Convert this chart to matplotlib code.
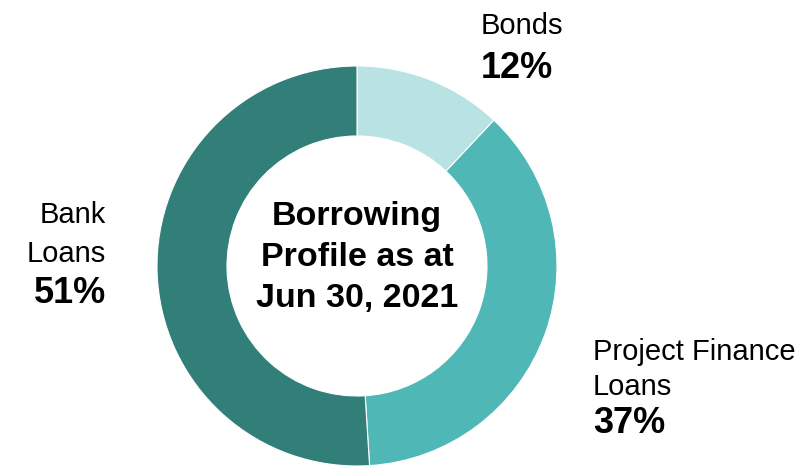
import matplotlib
matplotlib.use("Agg")
import matplotlib.pyplot as plt

plt.rcParams['font.family'] = ['Liberation Sans', 'DejaVu Sans']

# borrowing mix, clockwise from 12 o'clock
categories = ['Bonds', 'Project Finance Loans', 'Bank Loans']
shares = [12, 37, 51]
colors = ['#b9e3e3', '#4fb8b6', '#327f7a']

W, H = 804, 466
fig = plt.figure(figsize=(W / 100, H / 100), dpi=100)

# donut: centre at (357, 266) px, outer radius 200 px
cx, cy, r = 357, 266, 200
ax = fig.add_axes([(cx - r) / W, (H - cy - r) / H, 2 * r / W, 2 * r / H])
ax.pie(shares, colors=colors, startangle=90, counterclock=False,
       radius=1, wedgeprops=dict(width=0.35, edgecolor='white', linewidth=0.8))
ax.set_xlim(-1, 1)
ax.set_ylim(-1, 1)
ax.set_aspect('equal')
ax.axis('off')

LABEL_SIZE = 21
PCT_SIZE = 26
TITLE_SIZE = 24.5


def px_text(x, y, s, **kw):
    fig.text(x / W, 1 - y / H, s, va='baseline', **kw)


# centre title
for line, y in zip(['Borrowing', 'Profile as at', 'Jun 30, 2021'], [225, 266, 307]):
    px_text(cx, y, line, ha='center', fontsize=TITLE_SIZE, fontweight='bold')

# Bonds
px_text(481, 34, 'Bonds', ha='left', fontsize=LABEL_SIZE)
px_text(481, 78, f'{shares[0]}%', ha='left', fontsize=PCT_SIZE, fontweight='bold')

# Project Finance Loans
px_text(593, 360, 'Project Finance', ha='left', fontsize=LABEL_SIZE)
px_text(593, 395, 'Loans', ha='left', fontsize=LABEL_SIZE)
px_text(593, 433, f'{shares[1]}%', ha='left', fontsize=PCT_SIZE, fontweight='bold')

# Bank Loans
px_text(106, 223, 'Bank', ha='right', fontsize=LABEL_SIZE)
px_text(106, 262, 'Loans', ha='right', fontsize=LABEL_SIZE)
px_text(106, 303, f'{shares[2]}%', ha='right', fontsize=PCT_SIZE, fontweight='bold')

fig.savefig('out.png', dpi=100, facecolor='white')
